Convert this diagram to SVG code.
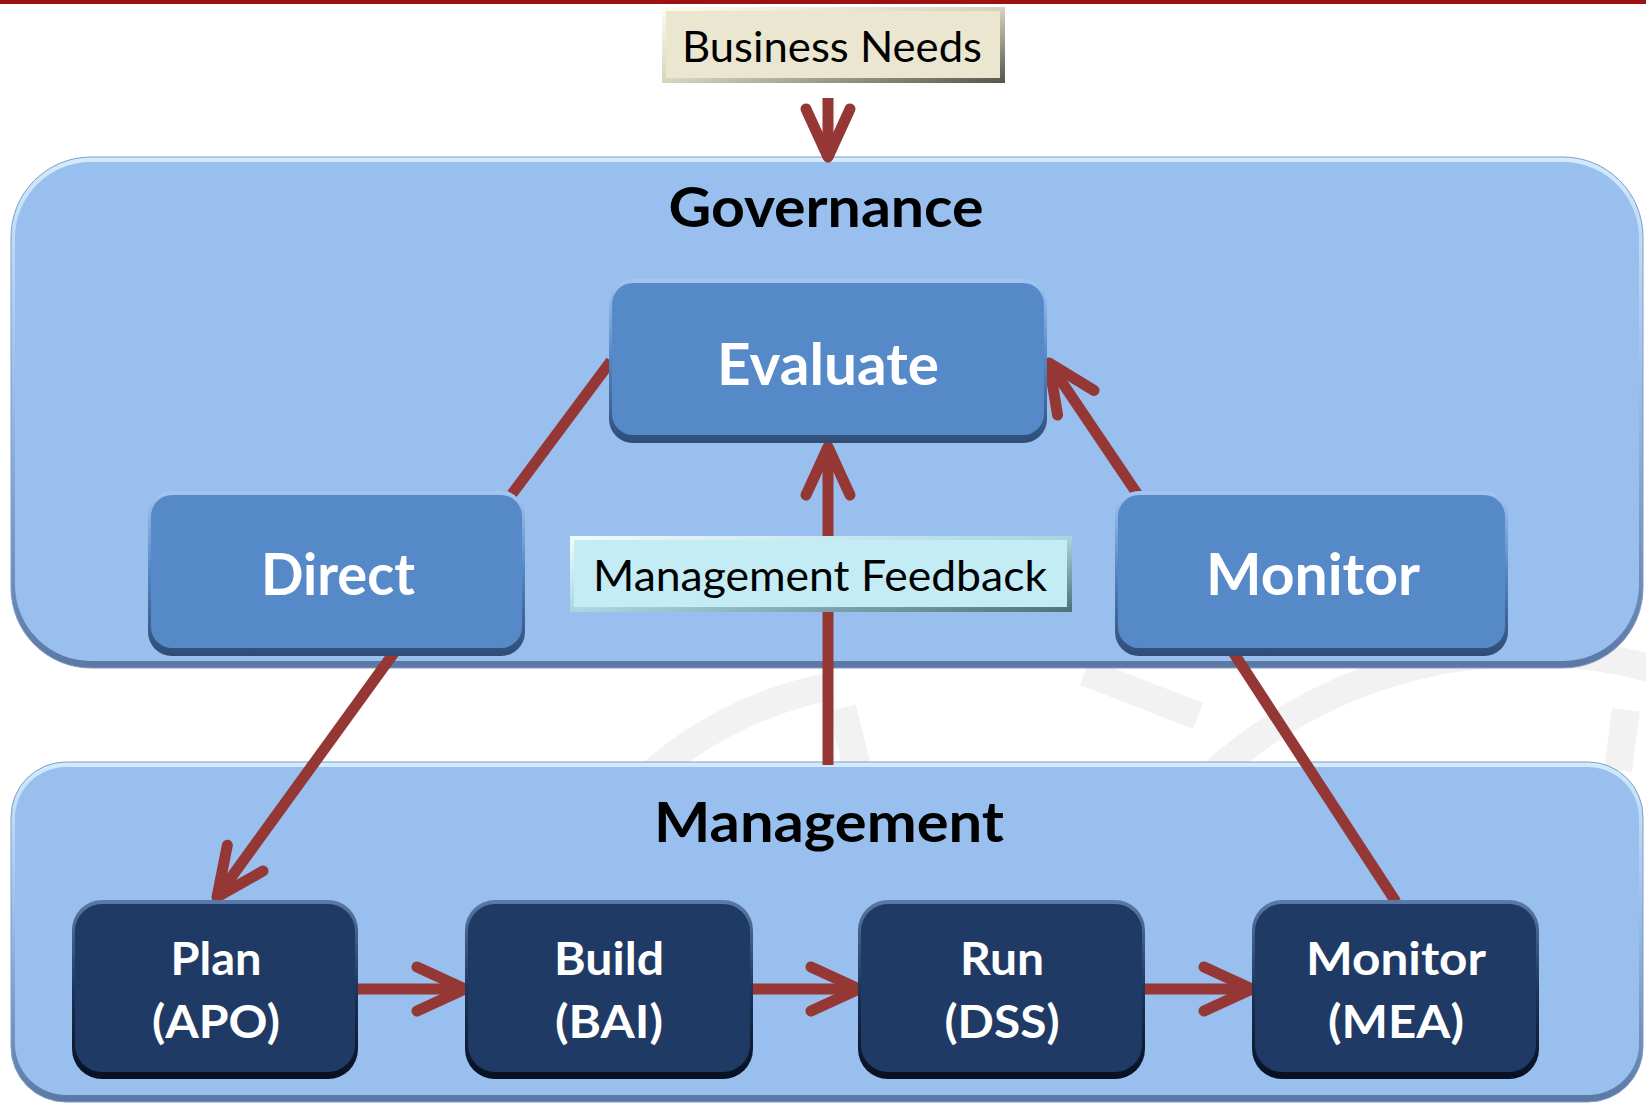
<svg xmlns="http://www.w3.org/2000/svg" width="1646" height="1104" viewBox="0 0 1646 1104">
<style>
  text { font-family: Lato, "Open Sans", "Liberation Sans", sans-serif; text-anchor: middle; }
  .title { font-size: 56px; font-weight: 700; fill: #000; }
  .gov { font-size: 58px; font-weight: 700; fill: #fff; }
  .mgt { font-size: 45px; font-weight: 700; fill: #fff; }
  .lbl { font-size: 42px; font-weight: 400; fill: #000; }
  .conn { fill: none; stroke: #953735; stroke-width: 11; }
  .arrow { marker-end: url(#head); }
  .wm { fill: none; stroke: #f2f2f2; stroke-width: 28; }
  .blueIn { fill: #5689c8; }
  .navyIn { fill: #1f3b65; }
</style>
<defs>
  <marker id="head" markerUnits="userSpaceOnUse" viewBox="-60 -35 70 70" markerWidth="70" markerHeight="70" refX="0" refY="0" orient="auto" overflow="visible">
    <path d="M-48,-22 L0,0 L-48,22" fill="none" stroke="#953735" stroke-width="11" stroke-linecap="round" stroke-linejoin="round"/>
  </marker>
  <linearGradient id="contEdge" x1="0" y1="0" x2="0" y2="1">
    <stop offset="0" stop-color="#d2ecfd"/>
    <stop offset="0.5" stop-color="#93b8e8"/>
    <stop offset="1" stop-color="#5a78a3"/>
  </linearGradient>
  <linearGradient id="blueEdge" x1="0" y1="0" x2="0" y2="1">
    <stop offset="0" stop-color="#a3c6f2"/>
    <stop offset="0.5" stop-color="#5385c2"/>
    <stop offset="1" stop-color="#2f4c75"/>
  </linearGradient>
  <linearGradient id="navyEdge" x1="0" y1="0" x2="0" y2="1">
    <stop offset="0" stop-color="#5b7aa6"/>
    <stop offset="0.5" stop-color="#1c355b"/>
    <stop offset="1" stop-color="#07101f"/>
  </linearGradient>
  <linearGradient id="beigeEdge" x1="0" y1="0" x2="1" y2="1">
    <stop offset="0" stop-color="#fffdf2"/>
    <stop offset="0.5" stop-color="#d8d3bd"/>
    <stop offset="1" stop-color="#55544a"/>
  </linearGradient>
  <linearGradient id="cyanEdge" x1="0" y1="0" x2="1" y2="1">
    <stop offset="0" stop-color="#f0fdff"/>
    <stop offset="0.5" stop-color="#a9d6e0"/>
    <stop offset="1" stop-color="#4d6f78"/>
  </linearGradient>
</defs>

<rect x="0" y="0" width="1646" height="1104" fill="#ffffff"/>
<rect x="0" y="0" width="1646" height="4" fill="#9c1212"/>

<g id="watermark">
  <path class="wm" d="M650,775 A390,390 0 0 1 832,686"/>
  <path class="wm" d="M842,708 L858,770"/>
  <path class="wm" d="M1085,672 L1198,716"/>
  <path class="wm" d="M1212,775 A470,470 0 0 1 1650,668"/>
  <path class="wm" d="M1626,710 L1618,770"/>
</g>

<g id="governance">
  <rect x="11" y="157" width="1632" height="511" rx="80" fill="url(#contEdge)" stroke="#7f9cc6" stroke-width="1"/>
  <rect x="15" y="162" width="1624" height="499" rx="76" fill="#99bfef"/>
  <text class="title" x="826" y="227" textLength="315" lengthAdjust="spacingAndGlyphs">Governance</text>
</g>

<g id="management">
  <rect x="11" y="762" width="1632" height="340" rx="55" fill="url(#contEdge)" stroke="#7f9cc6" stroke-width="1"/>
  <rect x="15" y="767" width="1624" height="328" rx="51" fill="#99bfef"/>
  <text class="title" x="829" y="842" textLength="350" lengthAdjust="spacingAndGlyphs">Management</text>
</g>

<g id="connectors">
  <path class="conn arrow" d="M828,98 L828,157"/>
  <path class="conn" d="M512,494 L611,361"/>
  <path class="conn arrow" d="M396,650 L217,897"/>
  <path class="conn arrow" d="M1140,498 L1049,363"/>
  <path class="conn arrow" d="M828,765 L828,447"/>
  <path class="conn arrow" d="M356,989 L465,989"/>
  <path class="conn arrow" d="M750,989 L859,989"/>
  <path class="conn arrow" d="M1142,989 L1252,989"/>
  <path class="conn" d="M1233,652 L1396,902"/>
</g>

<g id="business-needs">
  <rect x="662" y="7" width="343" height="76" fill="url(#beigeEdge)"/>
  <rect x="666" y="11" width="334" height="67" fill="#ebe6d0"/>
  <text class="lbl" x="832" y="62" font-size="44" textLength="300" lengthAdjust="spacingAndGlyphs">Business Needs</text>
</g>

<g id="evaluate">
  <rect x="609" y="279" width="438" height="164" rx="24" fill="url(#blueEdge)"/>
  <rect x="612" y="283" width="432" height="152" rx="21" class="blueIn"/>
  <text class="gov" x="828" y="385" textLength="222" lengthAdjust="spacingAndGlyphs">Evaluate</text>
</g>

<g id="direct">
  <rect x="148" y="491" width="377" height="165" rx="24" fill="url(#blueEdge)"/>
  <rect x="151" y="495" width="371" height="153" rx="21" class="blueIn"/>
  <text class="gov" x="338" y="595" textLength="154" lengthAdjust="spacingAndGlyphs">Direct</text>
</g>

<g id="monitor-gov">
  <rect x="1115" y="491" width="393" height="165" rx="24" fill="url(#blueEdge)"/>
  <rect x="1118" y="495" width="387" height="153" rx="21" class="blueIn"/>
  <text class="gov" x="1313" y="595" textLength="214" lengthAdjust="spacingAndGlyphs">Monitor</text>
</g>

<g id="management-feedback">
  <rect x="570" y="536" width="502" height="76" fill="url(#cyanEdge)"/>
  <rect x="574" y="540" width="493" height="67" fill="#c3ecf5"/>
  <text class="lbl" x="820" y="591" textLength="454" lengthAdjust="spacingAndGlyphs">Management Feedback</text>
</g>

<g id="plan">
  <rect x="72" y="900" width="286" height="179" rx="30" fill="url(#navyEdge)"/>
  <rect x="75" y="904" width="280" height="168" rx="27" class="navyIn"/>
  <text class="mgt" x="216" y="975" textLength="91" lengthAdjust="spacingAndGlyphs">Plan</text>
  <text class="mgt" x="216" y="1038" textLength="128" lengthAdjust="spacingAndGlyphs">(APO)</text>
</g>

<g id="build">
  <rect x="465" y="900" width="288" height="179" rx="30" fill="url(#navyEdge)"/>
  <rect x="468" y="904" width="282" height="168" rx="27" class="navyIn"/>
  <text class="mgt" x="609" y="975" textLength="110" lengthAdjust="spacingAndGlyphs">Build</text>
  <text class="mgt" x="609" y="1038" textLength="108" lengthAdjust="spacingAndGlyphs">(BAI)</text>
</g>

<g id="run">
  <rect x="858" y="900" width="287" height="179" rx="30" fill="url(#navyEdge)"/>
  <rect x="861" y="904" width="281" height="168" rx="27" class="navyIn"/>
  <text class="mgt" x="1002" y="975" textLength="84" lengthAdjust="spacingAndGlyphs">Run</text>
  <text class="mgt" x="1002" y="1038" textLength="115" lengthAdjust="spacingAndGlyphs">(DSS)</text>
</g>

<g id="monitor-mea">
  <rect x="1252" y="900" width="287" height="179" rx="30" fill="url(#navyEdge)"/>
  <rect x="1255" y="904" width="281" height="168" rx="27" class="navyIn"/>
  <text class="mgt" x="1396" y="975" textLength="180" lengthAdjust="spacingAndGlyphs">Monitor</text>
  <text class="mgt" x="1396" y="1038" textLength="136" lengthAdjust="spacingAndGlyphs">(MEA)</text>
</g>
</svg>
